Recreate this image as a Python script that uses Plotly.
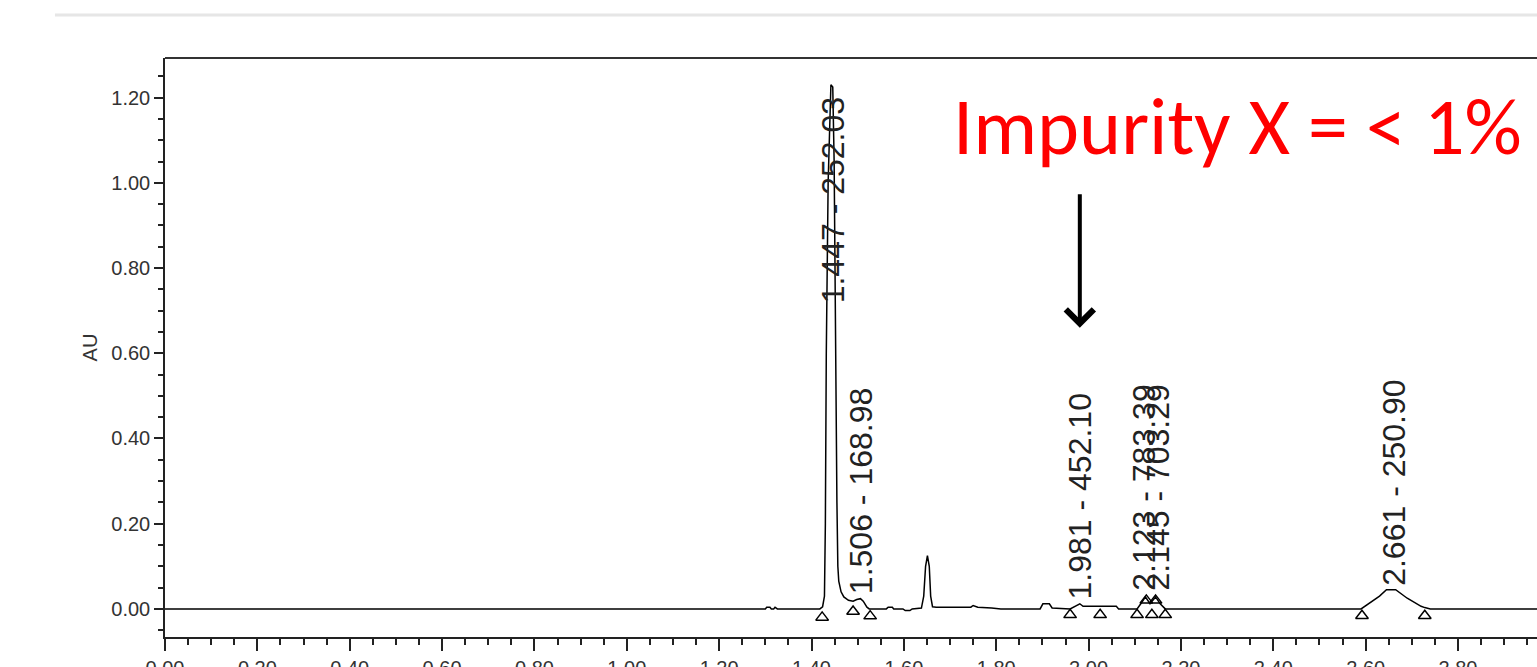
import plotly.graph_objects as go

# ---- chromatogram trace (retention time in minutes, absorbance AU) ----
trace_x = [0.000, 1.300, 1.303, 1.310, 1.313, 1.318, 1.321, 1.326, 1.418, 1.424, 1.428, 1.430,
           1.432, 1.436, 1.442, 1.446, 1.449, 1.452, 1.455, 1.457, 1.459, 1.464, 1.470, 1.480,
           1.490, 1.498, 1.506, 1.512, 1.520, 1.525, 1.562, 1.566, 1.575, 1.578, 1.598, 1.603,
           1.613, 1.618, 1.638, 1.643, 1.647, 1.651, 1.655, 1.658, 1.662, 1.670, 1.745, 1.750,
           1.760, 1.790, 1.810, 1.895, 1.901, 1.915, 1.921, 1.960, 1.975, 1.981, 1.988, 2.025,
           2.060, 2.065, 2.105, 2.115, 2.123, 2.133, 2.145, 2.155, 2.166, 2.590, 2.610, 2.630,
           2.645, 2.665, 2.690, 2.720, 2.728, 2.740, 2.971]
trace_y = [0.000, 0.000, 0.004, 0.004, 0.000, 0.000, 0.004, 0.000, 0.000, 0.005, 0.030, 0.200,
           0.600, 1.000, 1.230, 1.225, 1.050, 0.600, 0.250, 0.100, 0.065, 0.040, 0.028, 0.020,
           0.018, 0.022, 0.024, 0.018, 0.004, 0.000, 0.000, 0.004, 0.004, 0.000, 0.000, -0.004,
           -0.004, 0.000, 0.002, 0.030, 0.100, 0.125, 0.100, 0.030, 0.005, 0.004, 0.004, 0.008,
           0.004, 0.002, 0.000, 0.000, 0.012, 0.012, 0.002, 0.000, 0.010, 0.012, 0.006, 0.006,
           0.006, 0.000, 0.000, 0.015, 0.028, 0.012, 0.028, 0.012, 0.000, 0.000, 0.015, 0.030,
           0.045, 0.045, 0.025, 0.006, 0.003, 0.000, 0.000]

# ---- integration markers (peak start / end) ----
marker_x = [1.423, 1.490, 1.527, 1.960, 2.025, 2.105, 2.125, 2.137, 2.145, 2.166, 2.592, 2.728]
marker_y = [-0.020, -0.006, -0.017, -0.014, -0.014, -0.014, 0.020, -0.014, 0.020, -0.014, -0.016, -0.016]

# ---- peak labels: retention time - mass ----
label_rt = [1.447, 1.506, 1.981, 2.120, 2.150, 2.661]
label_text = ["1.447 - 252.03", "1.506 - 168.98", "1.981 - 452.10",
              "2.123 - 783.39", "2.145 - 703.29", "2.661 - 250.90"]
label_base = [0.713, 0.031, 0.017, 0.038, 0.038, 0.049]

# ---- axes ----
x_range = [0.0, 2.971]
y_range = [-0.066, 1.293]
x_ticks = [0.0, 0.2, 0.4, 0.6, 0.8, 1.0, 1.2, 1.4, 1.6, 1.8, 2.0, 2.2, 2.4, 2.6, 2.8, 3.0]
y_ticks = [0.0, 0.2, 0.4, 0.6, 0.8, 1.0, 1.2]

fig = go.Figure()
fig.add_trace(go.Scatter(x=trace_x, y=trace_y, mode="lines",
                         line=dict(color="black", width=1.5), hoverinfo="skip",
                         showlegend=False))
fig.add_trace(go.Scatter(x=marker_x, y=marker_y, mode="markers",
                         marker=dict(symbol="triangle-up-open", size=11, color="black",
                                     line=dict(width=1.5, color="black")),
                         showlegend=False, hoverinfo="skip"))

for rt, txt, base in zip(label_rt, label_text, label_base):
    fig.add_annotation(x=rt, y=base, xref="x", yref="y", text=txt, showarrow=False,
                       textangle=-90, xanchor="center", yanchor="bottom",
                       font=dict(family="Liberation Sans, Arial", size=32, color="#222222"))

# arrow pointing at the impurity peak
fig.add_annotation(x=1.981, y=0.66, xref="x", yref="y", ax=0, ay=-135,
                   axref="pixel", ayref="pixel", showarrow=True, arrowhead=4,
                   arrowwidth=4, arrowsize=1.35, arrowcolor="black", text="")

fig.add_annotation(x=0.7817, y=0.882, xref="paper", yref="paper",
                   text="Impurity X = < 1%", showarrow=False,
                   xanchor="center", yanchor="middle",
                   font=dict(family="Carlito, Lato, sans-serif", size=80, color="#ff0000"))

# top frame line and page separator
fig.add_shape(type="line", xref="paper", yref="paper", x0=0, x1=1, y0=1, y1=1,
              line=dict(color="#333333", width=2))
fig.add_shape(type="line", xref="paper", yref="paper", x0=-0.0802, x1=1, y0=1.0743, y1=1.0743,
              line=dict(color="#e6e6e6", width=3))

tick_font = dict(family="Liberation Sans, Arial", size=20, color="#333333")
fig.update_xaxes(range=x_range, tickvals=x_ticks, ticktext=[f"{v:.2f}" for v in x_ticks],
                 showline=True, linecolor="#222222", linewidth=1.5,
                 ticks="outside", ticklen=12, tickwidth=1.5, tickcolor="#222222",
                 minor=dict(dtick=0.05, tick0=0, ticks="outside", ticklen=6,
                            tickwidth=1.5, tickcolor="#222222"),
                 showgrid=False, zeroline=False, tickfont=tick_font)
fig.update_yaxes(range=y_range, tickvals=y_ticks, ticktext=[f"{v:.2f}" for v in y_ticks],
                 showline=True, linecolor="#222222", linewidth=1.5,
                 ticks="outside", ticklen=9, tickwidth=1.5, tickcolor="#222222",
                 minor=dict(dtick=0.05, tick0=0, ticks="outside", ticklen=5,
                            tickwidth=1.5, tickcolor="#222222"),
                 showgrid=False, zeroline=False, tickfont=tick_font,
                 title=dict(text="AU", standoff=8,
                            font=dict(family="Liberation Sans, Arial", size=20, color="#333333")))

fig.update_layout(width=1537, height=667, margin=dict(l=165, r=0, t=58, b=30, autoexpand=False),
                  plot_bgcolor="white", paper_bgcolor="white", showlegend=False)

fig.write_html("out.html", config={"displayModeBar": False},
               post_script="document.body.style.margin='0px';document.body.style.overflow='hidden';")
